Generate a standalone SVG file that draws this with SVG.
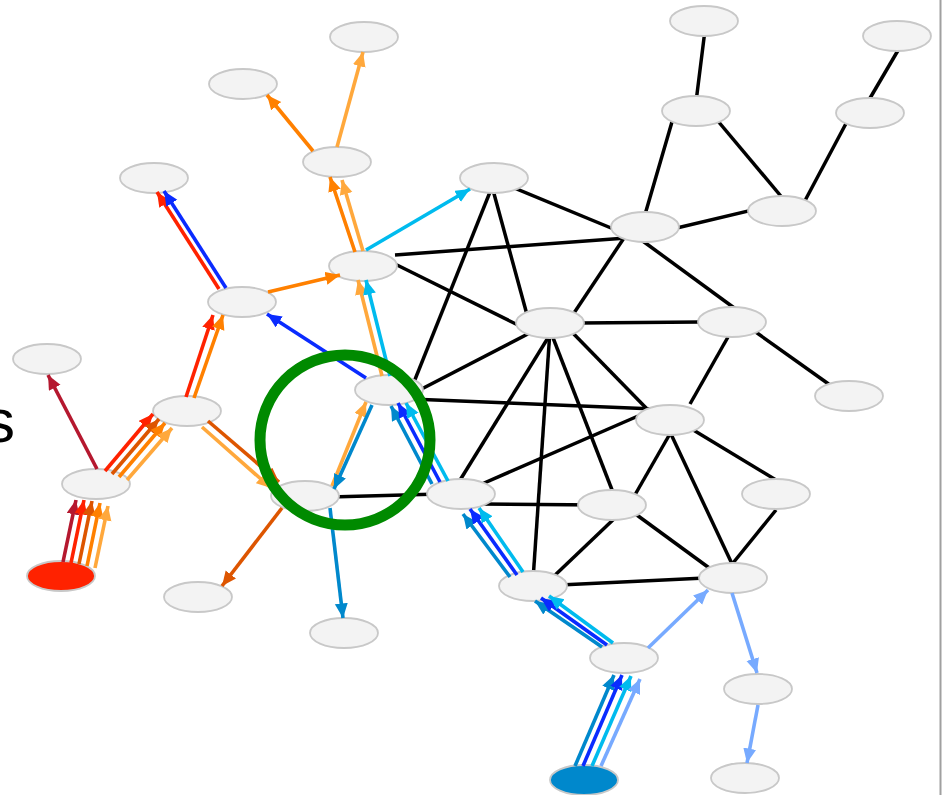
<svg xmlns="http://www.w3.org/2000/svg" width="942" height="795" viewBox="0 0 942 795">
<style>
.e{stroke:#000;stroke-width:3.5;fill:none;stroke-linecap:butt}
.a{stroke-width:3.6;fill:none}
.n{fill:#f3f3f3;stroke:#c8c8c8;stroke-width:1.8}
.cr{stroke:#b5182f;marker-end:url(#mcr)}
.rd{stroke:#ff2200;marker-end:url(#mrd)}
.do{stroke:#dd5500;marker-end:url(#mdo)}
.or{stroke:#ff8000;marker-end:url(#mor)}
.lo{stroke:#ffa83c;marker-end:url(#mlo)}
.bl{stroke:#0a2bff;marker-end:url(#mbl)}
.mb{stroke:#0088cc;marker-end:url(#mmb)}
.cy{stroke:#00bbee;marker-end:url(#mcy)}
.lb{stroke:#77aaff;marker-end:url(#mlb)}
</style>
<defs>
<marker id="mcr" markerUnits="userSpaceOnUse" markerWidth="16" markerHeight="14" refX="14.5" refY="6.5" orient="auto"><path d="M0,0 L14.5,6.5 L0,13 z" fill="#b5182f"/></marker>
<marker id="mrd" markerUnits="userSpaceOnUse" markerWidth="16" markerHeight="14" refX="14.5" refY="6.5" orient="auto"><path d="M0,0 L14.5,6.5 L0,13 z" fill="#ff2200"/></marker>
<marker id="mdo" markerUnits="userSpaceOnUse" markerWidth="16" markerHeight="14" refX="14.5" refY="6.5" orient="auto"><path d="M0,0 L14.5,6.5 L0,13 z" fill="#dd5500"/></marker>
<marker id="mor" markerUnits="userSpaceOnUse" markerWidth="16" markerHeight="14" refX="14.5" refY="6.5" orient="auto"><path d="M0,0 L14.5,6.5 L0,13 z" fill="#ff8000"/></marker>
<marker id="mlo" markerUnits="userSpaceOnUse" markerWidth="16" markerHeight="14" refX="14.5" refY="6.5" orient="auto"><path d="M0,0 L14.5,6.5 L0,13 z" fill="#ffa83c"/></marker>
<marker id="mbl" markerUnits="userSpaceOnUse" markerWidth="16" markerHeight="14" refX="14.5" refY="6.5" orient="auto"><path d="M0,0 L14.5,6.5 L0,13 z" fill="#0a2bff"/></marker>
<marker id="mmb" markerUnits="userSpaceOnUse" markerWidth="16" markerHeight="14" refX="14.5" refY="6.5" orient="auto"><path d="M0,0 L14.5,6.5 L0,13 z" fill="#0088cc"/></marker>
<marker id="mcy" markerUnits="userSpaceOnUse" markerWidth="16" markerHeight="14" refX="14.5" refY="6.5" orient="auto"><path d="M0,0 L14.5,6.5 L0,13 z" fill="#00bbee"/></marker>
<marker id="mlb" markerUnits="userSpaceOnUse" markerWidth="16" markerHeight="14" refX="14.5" refY="6.5" orient="auto"><path d="M0,0 L14.5,6.5 L0,13 z" fill="#77aaff"/></marker>
</defs>
<rect width="942" height="795" fill="#fff"/>
<line x1="940.5" y1="0" x2="940.5" y2="795" stroke="#a0a0a0" stroke-width="2"/>
<text x="-16" y="442" font-family="'Liberation Sans', Arial, sans-serif" font-size="62" fill="#000">s</text>
<g id="edges-black">
<line class="e" x1="330" y1="497" x2="440" y2="494"/>
<line class="e" x1="410" y1="392" x2="494" y2="182"/>
<line class="e" x1="410" y1="395" x2="549" y2="323"/>
<line class="e" x1="410" y1="399" x2="655" y2="409"/>
<line class="e" x1="395" y1="255" x2="640" y2="237"/>
<line class="e" x1="395" y1="264" x2="530" y2="331"/>
<line class="e" x1="500" y1="182" x2="628" y2="235"/>
<line class="e" x1="493" y1="190" x2="529" y2="322"/>
<line class="e" x1="628" y1="232" x2="568" y2="322"/>
<line class="e" x1="644" y1="218" x2="674" y2="115"/>
<line class="e" x1="660" y1="232" x2="765" y2="207"/>
<line class="e" x1="640" y1="239" x2="737" y2="310"/>
<line class="e" x1="705" y1="30" x2="695" y2="110"/>
<line class="e" x1="712" y1="114" x2="785" y2="201"/>
<line class="e" x1="800" y1="210" x2="850" y2="116"/>
<line class="e" x1="866" y1="105" x2="900" y2="47"/>
<line class="e" x1="580" y1="323" x2="700" y2="322"/>
<line class="e" x1="750" y1="328" x2="830" y2="385"/>
<line class="e" x1="728" y1="337" x2="690" y2="404"/>
<line class="e" x1="551" y1="333" x2="457" y2="485"/>
<line class="e" x1="550" y1="330" x2="533" y2="580"/>
<line class="e" x1="550" y1="330" x2="614" y2="495"/>
<line class="e" x1="565" y1="325" x2="650" y2="412"/>
<line class="e" x1="475" y1="487" x2="645" y2="413"/>
<line class="e" x1="480" y1="504" x2="600" y2="505"/>
<line class="e" x1="552" y1="578" x2="616" y2="517"/>
<line class="e" x1="690" y1="428" x2="776" y2="480"/>
<line class="e" x1="671" y1="432" x2="632" y2="500"/>
<line class="e" x1="670" y1="432" x2="733" y2="566"/>
<line class="e" x1="776" y1="510" x2="733" y2="563"/>
<line class="e" x1="630" y1="510" x2="712" y2="570"/>
<line class="e" x1="560" y1="585" x2="705" y2="578"/>
</g>
<g id="n1"><ellipse class="n" cx="364" cy="37" rx="34" ry="15"/></g>
<g id="n2"><ellipse class="n" cx="243" cy="84" rx="34" ry="15"/></g>
<g id="n3"><ellipse class="n" cx="337" cy="162" rx="34" ry="15"/></g>
<g id="n4"><ellipse class="n" cx="154" cy="178" rx="34" ry="15"/></g>
<g id="n5"><ellipse class="n" cx="494" cy="178" rx="34" ry="15"/></g>
<g id="n6"><ellipse class="n" cx="363" cy="266" rx="34" ry="15"/></g>
<g id="n7"><ellipse class="n" cx="242" cy="302" rx="34" ry="15"/></g>
<g id="n8"><ellipse class="n" cx="47" cy="359" rx="34" ry="15"/></g>
<g id="n9"><ellipse class="n" cx="187" cy="411" rx="34" ry="15"/></g>
<g id="n10"><ellipse class="n" cx="389" cy="390" rx="34" ry="15"/></g>
<g id="n11"><ellipse class="n" cx="96" cy="484" rx="34" ry="15"/></g>
<g id="n12"><ellipse class="n" cx="305" cy="496" rx="34" ry="15"/></g>
<g id="n13"><ellipse class="n" cx="461" cy="494" rx="34" ry="15"/></g>
<g id="n14"><ellipse cx="61" cy="576" rx="34" ry="15" fill="#ff2200" stroke="#c8c8c8" stroke-width="1.8"/></g>
<g id="n15"><ellipse class="n" cx="198" cy="597" rx="34" ry="15"/></g>
<g id="n16"><ellipse class="n" cx="344" cy="633" rx="34" ry="15"/></g>
<g id="n17"><ellipse class="n" cx="533" cy="586" rx="34" ry="15"/></g>
<g id="n18"><ellipse class="n" cx="624" cy="658" rx="34" ry="15"/></g>
<g id="n19"><ellipse cx="584" cy="780" rx="34" ry="15" fill="#0088cc" stroke="#c8c8c8" stroke-width="1.8"/></g>
<g id="n20"><ellipse class="n" cx="733" cy="578" rx="34" ry="15"/></g>
<g id="n21"><ellipse class="n" cx="758" cy="689" rx="34" ry="15"/></g>
<g id="n22"><ellipse class="n" cx="745" cy="778" rx="34" ry="15"/></g>
<g id="n23"><ellipse class="n" cx="612" cy="505" rx="34" ry="15"/></g>
<g id="n24"><ellipse class="n" cx="776" cy="494" rx="34" ry="15"/></g>
<g id="n25"><ellipse class="n" cx="670" cy="420" rx="34" ry="15"/></g>
<g id="n26"><ellipse class="n" cx="849" cy="396" rx="34" ry="15"/></g>
<g id="n27"><ellipse class="n" cx="732" cy="322" rx="34" ry="15"/></g>
<g id="n28"><ellipse class="n" cx="550" cy="323" rx="34" ry="15"/></g>
<g id="n29"><ellipse class="n" cx="645" cy="227" rx="34" ry="15"/></g>
<g id="n30"><ellipse class="n" cx="782" cy="211" rx="34" ry="15"/></g>
<g id="n31"><ellipse class="n" cx="696" cy="111" rx="34" ry="15"/></g>
<g id="n32"><ellipse class="n" cx="704" cy="21" rx="34" ry="15"/></g>
<g id="n33"><ellipse class="n" cx="870" cy="113" rx="34" ry="15"/></g>
<g id="n34"><ellipse class="n" cx="897" cy="36" rx="34" ry="15"/></g>
<g id="edges-colored">
<line class="a cr" x1="63" y1="562" x2="76" y2="500"/>
<line class="a rd" x1="71" y1="563" x2="84" y2="500"/>
<line class="a do" x1="79" y1="564" x2="92" y2="501"/>
<line class="a or" x1="87" y1="566" x2="100" y2="503"/>
<line class="a lo" x1="95" y1="568" x2="108" y2="506"/>
<line class="a cr" x1="97" y1="469" x2="48" y2="375"/>
<line class="a rd" x1="105" y1="471" x2="153" y2="414"/>
<line class="a do" x1="112" y1="474" x2="159" y2="419"/>
<line class="a or" x1="119" y1="477" x2="165" y2="423"/>
<line class="a lo" x1="127" y1="480" x2="172" y2="428"/>
<line class="a rd" x1="186" y1="397" x2="213" y2="315"/>
<line class="a or" x1="194" y1="398" x2="223" y2="315"/>
<line class="a rd" x1="219" y1="289" x2="157" y2="192"/>
<line class="a bl" x1="226" y1="288" x2="164" y2="191"/>
<line class="a or" x1="268" y1="292" x2="340" y2="275"/>
<line class="a bl" x1="366" y1="378" x2="267" y2="314"/>
<line class="a lo" x1="382" y1="376" x2="358" y2="280"/>
<line class="a cy" x1="390" y1="376" x2="366" y2="280"/>
<line class="a or" x1="355" y1="252" x2="330" y2="177"/>
<line class="a lo" x1="363" y1="251" x2="342" y2="180"/>
<line class="a cy" x1="366" y1="250" x2="470" y2="189"/>
<line class="a or" x1="313" y1="151" x2="267" y2="95"/>
<line class="a lo" x1="337" y1="147" x2="363" y2="52"/>
<line class="a do" x1="208" y1="421" x2="279" y2="482"/>
<line class="a lo" x1="202" y1="427" x2="271" y2="488"/>
<line class="a do" x1="282" y1="508" x2="222" y2="586"/>
<line class="a mb" x1="330" y1="508" x2="343" y2="618"/>
<line class="a lo" x1="332" y1="486" x2="366" y2="402"/>
<line class="a mb" x1="372" y1="405" x2="334" y2="489"/>
<line class="a mb" x1="432" y1="484" x2="391" y2="406"/>
<line class="a bl" x1="440" y1="482" x2="398" y2="403"/>
<line class="a cy" x1="448" y1="481" x2="406" y2="403"/>
<line class="a mb" x1="510" y1="577" x2="463" y2="514"/>
<line class="a bl" x1="517" y1="575" x2="470" y2="509"/>
<line class="a cy" x1="523" y1="572" x2="479" y2="508"/>
<line class="a mb" x1="602" y1="647" x2="535" y2="601"/>
<line class="a bl" x1="607" y1="645" x2="541" y2="598"/>
<line class="a cy" x1="613" y1="643" x2="549" y2="596"/>
<line class="a mb" x1="575" y1="766" x2="614" y2="675"/>
<line class="a bl" x1="583" y1="766" x2="622" y2="675"/>
<line class="a cy" x1="592" y1="766" x2="631" y2="676"/>
<line class="a lb" x1="601" y1="766" x2="640" y2="679"/>
<line class="a lb" x1="648" y1="648" x2="708" y2="590"/>
<line class="a lb" x1="732" y1="593" x2="757" y2="673"/>
<line class="a lb" x1="758" y1="705" x2="747" y2="763"/>
</g>
<circle id="highlight" cx="345" cy="440" r="85" fill="none" stroke="#008a00" stroke-width="11"/>
</svg>
